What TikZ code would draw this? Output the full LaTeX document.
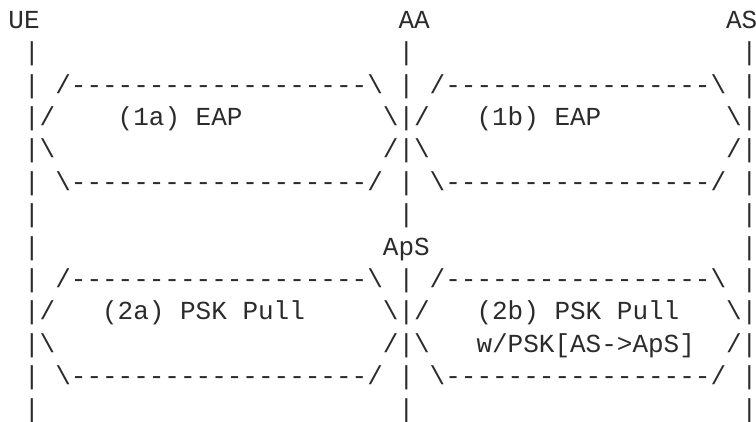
\documentclass[tikz,border=0pt]{standalone}
\usepackage{fontspec}
\setmonofont{Liberation Mono}
\definecolor{ink}{HTML}{2B2B2B}
\newcommand\tk[4]{\node[tk] (#1) at ({8.5+#2*15.6},{425.1-32.4*#3}) {#4};}
\newcommand\dashesA{-------------------}
\newcommand\dashesB{-----------------}
\tikzset{tk/.style={anchor=base west,inner sep=0pt,outer sep=0pt,text=ink,
  font=\ttfamily\fontsize{26}{26}\selectfont}}
\begin{document}
\begin{tikzpicture}[x=1pt,y=1pt]
\useasboundingbox (0,0) rectangle (756,421);
% row 1
\tk{ue}{0}{1}{UE}
\tk{aa}{25}{1}{AA}
\tk{as}{46}{1}{AS}
% row 2
\tk{a2}{1}{2}{|}\tk{b2}{25}{2}{|}\tk{c2}{47}{2}{|}
% row 3
\tk{a3}{1}{3}{|}\tk{p3}{3}{3}{/\dashesA\textbackslash}
\tk{b3}{25}{3}{|}\tk{q3}{27}{3}{/\dashesB\textbackslash}\tk{c3}{47}{3}{|}
% row 4
\tk{a4}{1}{4}{|/}\tk{t4}{7}{4}{(1a) EAP}
\tk{b4}{24}{4}{\textbackslash|/}\tk{u4}{30}{4}{(1b) EAP}
\tk{c4}{46}{4}{\textbackslash|}
% row 5
\tk{a5}{1}{5}{|\textbackslash}\tk{b5}{24}{5}{/|\textbackslash}\tk{c5}{46}{5}{/|}
% row 6
\tk{a6}{1}{6}{|}\tk{p6}{3}{6}{\textbackslash\dashesA/}
\tk{b6}{25}{6}{|}\tk{q6}{27}{6}{\textbackslash\dashesB/}\tk{c6}{47}{6}{|}
% row 7
\tk{a7}{1}{7}{|}\tk{b7}{25}{7}{|}\tk{c7}{47}{7}{|}
% row 8
\tk{a8}{1}{8}{|}\tk{aps}{24}{8}{ApS}\tk{c8}{47}{8}{|}
% row 9
\tk{a9}{1}{9}{|}\tk{p9}{3}{9}{/\dashesA\textbackslash}
\tk{b9}{25}{9}{|}\tk{q9}{27}{9}{/\dashesB\textbackslash}\tk{c9}{47}{9}{|}
% row 10
\tk{a10}{1}{10}{|/}\tk{t10}{6}{10}{(2a) PSK Pull}
\tk{b10}{24}{10}{\textbackslash|/}\tk{u10}{30}{10}{(2b) PSK Pull}
\tk{c10}{46}{10}{\textbackslash|}
% row 11
\tk{a11}{1}{11}{|\textbackslash}\tk{b11}{24}{11}{/|\textbackslash}
\tk{u11}{30}{11}{w/PSK[AS->ApS]}\tk{c11}{46}{11}{/|}
% row 12
\tk{a12}{1}{12}{|}\tk{p12}{3}{12}{\textbackslash\dashesA/}
\tk{b12}{25}{12}{|}\tk{q12}{27}{12}{\textbackslash\dashesB/}\tk{c12}{47}{12}{|}
% row 13
\tk{a13}{1}{13}{|}\tk{b13}{25}{13}{|}\tk{c13}{47}{13}{|}
\end{tikzpicture}
\end{document}
